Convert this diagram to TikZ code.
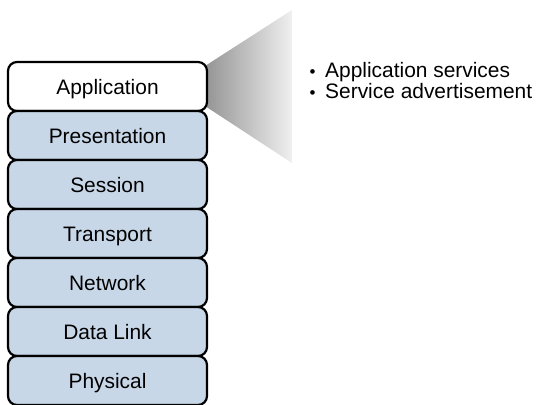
\documentclass[tikz,border=0pt]{standalone}
\usepackage{fontspec}
\setmainfont{Liberation Sans}
\newcommand{\bulletmark}{\makebox[15.5bp][l]{\fontsize{17}{17}\selectfont\textbullet}}
\begin{document}
\begin{tikzpicture}[x=1bp,y=-1bp,
  layer/.style={draw=black, line width=2.2bp, rounded corners=9bp,
    fill=layerfill, minimum width=199bp, minimum height=49bp,
    inner sep=0pt, text height=16bp, text depth=0bp,
    font=\fontsize{21}{21}\selectfont},
  toplayer/.style={layer, fill=white},
  bullettext/.style={anchor=base west, inner sep=0pt, align=left,
    font=\fontsize{21}{18}\selectfont}]
\definecolor{layerfill}{RGB}{200,215,232}
\useasboundingbox (0,0) rectangle (540,404);
\clip (0,0) rectangle (540,404);
% callout wedge fanning out from the application layer
\shade[left color=black!42, right color=black!6, shading angle=90]
  (205,66) -- (292,10) -- (292,163) -- (205,106) -- cycle;
% protocol stack
\node[toplayer] (app)  at (107.5,86.5)  {Application};
\node[layer]    (pres) at (107.5,135.5) {Presentation};
\node[layer]    (sess) at (107.5,184.5) {Session};
\node[layer]    (trans) at (107.5,233.5) {Transport};
\node[layer]    (net)  at (107.5,282.5) {Network};
\node[layer]    (dl)   at (107.5,331.5) {Data Link};
\node[layer]    (phys) at (107.5,380.5) {Physical};
% services of the application layer
\node[bullettext] (svc) at (309.5,98)
  {\bulletmark Application services\\\bulletmark Service advertisement};
\end{tikzpicture}
\end{document}
